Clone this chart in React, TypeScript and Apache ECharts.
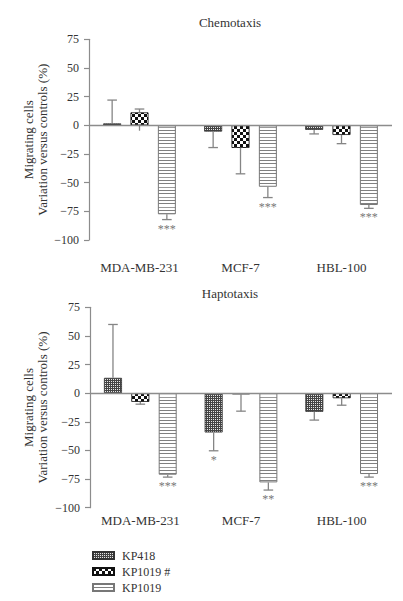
import React, { useEffect, useRef } from 'react';
import * as echarts from 'echarts';

const categories = ['MDA-MB-231', 'MCF-7', 'HBL-100'];
const seriesNames = ['KP418', 'KP1019 #', 'KP1019'];
const panelTitles = ['Chemotaxis', 'Haptotaxis'];
const yNameLines = ['Migrating cells', 'Variation versus controls (%)'];
const yMin = -100;
const yMax = 75;
const yStep = 25;

// Chemotaxis (mean, error-bar end)
const chemoKP418 = [1.7, -5.5, -4];
const chemoKP1019h = [11.3, -19.7, -8.4];
const chemoKP1019 = [-77.6, -53.6, -69.5];
const chemoErrKP418 = [22, -19.4, -7.5];
const chemoErrKP1019h = [14.2, -42.3, -16];
const chemoErrKP1019 = [-82.2, -63, -72.4];
const chemoLowKP1019h = [-4.7, null, null];
const chemoSigKP418 = ['', '', ''];
const chemoSigKP1019h = ['', '', ''];
const chemoSigKP1019 = ['***', '***', '***'];

// Haptotaxis (mean, error-bar end)
const haptoKP418 = [13.4, -34.3, -16.3];
const haptoKP1019h = [-7.6, -1, -4.4];
const haptoKP1019 = [-71.2, -77.9, -70.6];
const haptoErrKP418 = [60, -50.3, -23.5];
const haptoErrKP1019h = [-9.6, -15.7, -10.5];
const haptoErrKP1019 = [-73.3, -84.6, -73.3];
const haptoSigKP418 = ['', '*', ''];
const haptoSigKP1019h = ['', '', ''];
const haptoSigKP1019 = ['***', '**', '***'];

function makePattern(w: number, h: number, draw: (ctx: CanvasRenderingContext2D) => void) {
  const c = document.createElement('canvas');
  c.width = w;
  c.height = h;
  const ctx = c.getContext('2d')!;
  draw(ctx);
  return { image: c.toDataURL(), repeat: 'repeat', imageWidth: w, imageHeight: h } as any;
}

export default function App() {
  const ref = useRef<HTMLDivElement>(null);
  useEffect(() => {
    const el = ref.current!;
    const chart = echarts.init(el, null, { renderer: 'svg' });
    const FONT = '"Liberation Serif", "Times New Roman", serif';
    const TXT = '#333';
    const AX = '#8c8c8c';
    const ERR = '#858585';
    const BAR_W = 18;
    const BAR_GAP = 0.52;
    const OFF = BAR_W * (1 + BAR_GAP);

    const pat418 = makePattern(4, 4, (ctx) => {
      ctx.fillStyle = '#444444';
      ctx.fillRect(0, 0, 4, 4);
      ctx.fillStyle = '#e6e6e6';
      ctx.fillRect(1, 1, 1, 1);
      ctx.fillRect(3, 1, 1, 1);
      ctx.fillRect(1, 3, 1, 1);
      ctx.fillRect(3, 3, 1, 1);
    });
    const patChk = makePattern(6, 6, (ctx) => {
      ctx.fillStyle = '#ffffff';
      ctx.fillRect(0, 0, 6, 6);
      ctx.fillStyle = '#111111';
      ctx.fillRect(0, 0, 3, 3);
      ctx.fillRect(3, 3, 3, 3);
    });
    const patStr = makePattern(10, 10, (ctx) => {
      ctx.fillStyle = '#ffffff';
      ctx.fillRect(0, 0, 10, 10);
      ctx.fillStyle = '#808080';
      ctx.fillRect(0, 0, 10, 1);
      ctx.fillRect(0, 3, 10, 1);
      ctx.fillStyle = '#9a9a9a';
      ctx.fillRect(0, 7, 10, 1);
    });
    const itemStyles = [
      { color: pat418, borderColor: '#333', borderWidth: 0.8 },
      { color: patChk, borderColor: '#111', borderWidth: 0.8 },
      { color: patStr, borderColor: '#777', borderWidth: 1 },
    ];

    const panels = [
      {
        values: [chemoKP418, chemoKP1019h, chemoKP1019],
        errs: [chemoErrKP418, chemoErrKP1019h, chemoErrKP1019],
        lows: [[null, null, null], chemoLowKP1019h, [null, null, null]],
        sigs: [chemoSigKP418, chemoSigKP1019h, chemoSigKP1019],
      },
      {
        values: [haptoKP418, haptoKP1019h, haptoKP1019],
        errs: [haptoErrKP418, haptoErrKP1019h, haptoErrKP1019],
        lows: [[null, null, null], [null, null, null], [null, null, null]],
        sigs: [haptoSigKP418, haptoSigKP1019h, haptoSigKP1019],
      },
    ];

    const grids = [
      { left: 89, top: 39.3, width: 303, height: 200.7 },
      { left: 90, top: 307.3, width: 302, height: 200.4 },
    ];
    const labelMargins = [21, 6];

    const series: any[] = [];
    panels.forEach((p, gi) => {
      p.values.forEach((vals, k) => {
        const s: any = {
          type: 'bar',
          name: seriesNames[k],
          xAxisIndex: gi,
          yAxisIndex: gi,
          data: vals,
          barWidth: BAR_W,
          barGap: `${BAR_GAP * 100}%`,
          itemStyle: itemStyles[k],
          emphasis: { disabled: true },
        };
        if (k === 2) {
          s.markLine = {
            silent: true,
            symbol: 'none',
            label: { show: false },
            lineStyle: { color: AX, width: 1.4, type: 'solid' },
            data: [{ yAxis: 0 }],
            z: 5,
          };
        }
        series.push(s);
      });
      const meta: any[] = [];
      p.values.forEach((vals, k) => {
        vals.forEach((v, c) => {
          meta.push({ c, k, v, e: p.errs[k][c], low: p.lows[k][c], sig: p.sigs[k][c] });
        });
      });
      series.push({
        type: 'custom',
        name: 'err' + gi,
        xAxisIndex: gi,
        yAxisIndex: gi,
        clip: false,
        z: 10,
        silent: true,
        itemStyle: { color: '#777' },
        encode: { x: 0, y: [1, 2] },
        data: meta.map((m) => [m.c, m.v, m.e]),
        renderItem: (params: any, api: any) => {
          const m = meta[params.dataIndex];
          const base = api.coord([m.c, 0]);
          const x = base[0] + (m.k - 1) * OFF;
          const yv = api.coord([m.c, m.v])[1];
          const ye = api.coord([m.c, m.e])[1];
          const ls = { stroke: ERR, lineWidth: 1.3 };
          const children: any[] = [
            { type: 'line', shape: { x1: x, y1: yv, x2: x, y2: ye }, style: ls },
            { type: 'line', shape: { x1: x - 4.8, y1: ye, x2: x + 4.8, y2: ye }, style: ls },
          ];
          if (m.low != null) {
            const yl = api.coord([m.c, m.low])[1];
            children.push({ type: 'line', shape: { x1: x, y1: base[1], x2: x, y2: yl }, style: ls });
          }
          if (m.sig) {
            children.push({
              type: 'text',
              x,
              y: ye + 3,
              style: {
                text: m.sig,
                align: 'center',
                verticalAlign: 'top',
                fill: '#777777',
                fontSize: 12,
                fontFamily: FONT,
              },
            });
          }
          return { type: 'group', children };
        },
      });
    });

    const option: any = {
      animation: false,
      backgroundColor: '#ffffff',
      color: ['#777777', '#777777', '#777777', '#777777', '#777777', '#777777', '#777777', '#777777'],
      textStyle: { fontFamily: FONT, color: TXT },
      grid: grids,
      xAxis: grids.map((g, gi) => ({
        type: 'category',
        gridIndex: gi,
        data: categories,
        position: 'bottom',
        axisLine: { show: false, onZero: false },
        axisTick: { show: false },
        axisLabel: { interval: 0, fontSize: 13, color: TXT, fontFamily: FONT, margin: labelMargins[gi] },
        splitLine: { show: false },
      })),
      yAxis: grids.map((g, gi) => ({
        type: 'value',
        gridIndex: gi,
        min: yMin,
        max: yMax,
        interval: yStep,
        axisLine: { show: true, lineStyle: { color: AX, width: 1.2 } },
        axisTick: { show: true, length: 5, inside: false, lineStyle: { color: AX, width: 1.2 } },
        axisLabel: {
          fontSize: 12,
          color: TXT,
          fontFamily: FONT,
          margin: 10,
          formatter: (v: number) => (v < 0 ? '\u2212' + Math.abs(v) : String(v)),
        },
        splitLine: { show: false },
      })),
      legend: {
        data: seriesNames,
        orient: 'vertical',
        left: 92,
        top: 549,
        padding: 0,
        itemWidth: 21,
        itemHeight: 7,
        itemGap: 3,
        icon: 'rect',
        selectedMode: false,
        textStyle: { fontSize: 12, color: TXT, fontFamily: FONT, lineHeight: 13, padding: [0, 0, 0, 3] },
      },
      graphic: [
        ...panelTitles.map((t, i) => ({
          type: 'text',
          x: 230,
          y: i === 0 ? 22.7 : 293.3,
          style: { text: t, align: 'center', verticalAlign: 'middle', fill: TXT, fontSize: 13, fontFamily: FONT },
        })),
        ...grids.map((g) => ({
          type: 'text',
          x: 35.5,
          y: g.top + g.height / 2,
          rotation: Math.PI / 2,
          style: {
            text: yNameLines.join('\n'),
            align: 'center',
            verticalAlign: 'middle',
            fill: TXT,
            fontSize: 13,
            lineHeight: 14.4,
            fontFamily: FONT,
          },
        })),
      ],
      series,
    };
    chart.setOption(option);
    return () => chart.dispose();
  }, []);
  return (
    <div
      ref={ref}
      style={{ position: 'absolute', left: 0, top: 0, width: 403, height: 601, background: '#fff' }}
    />
  );
}
